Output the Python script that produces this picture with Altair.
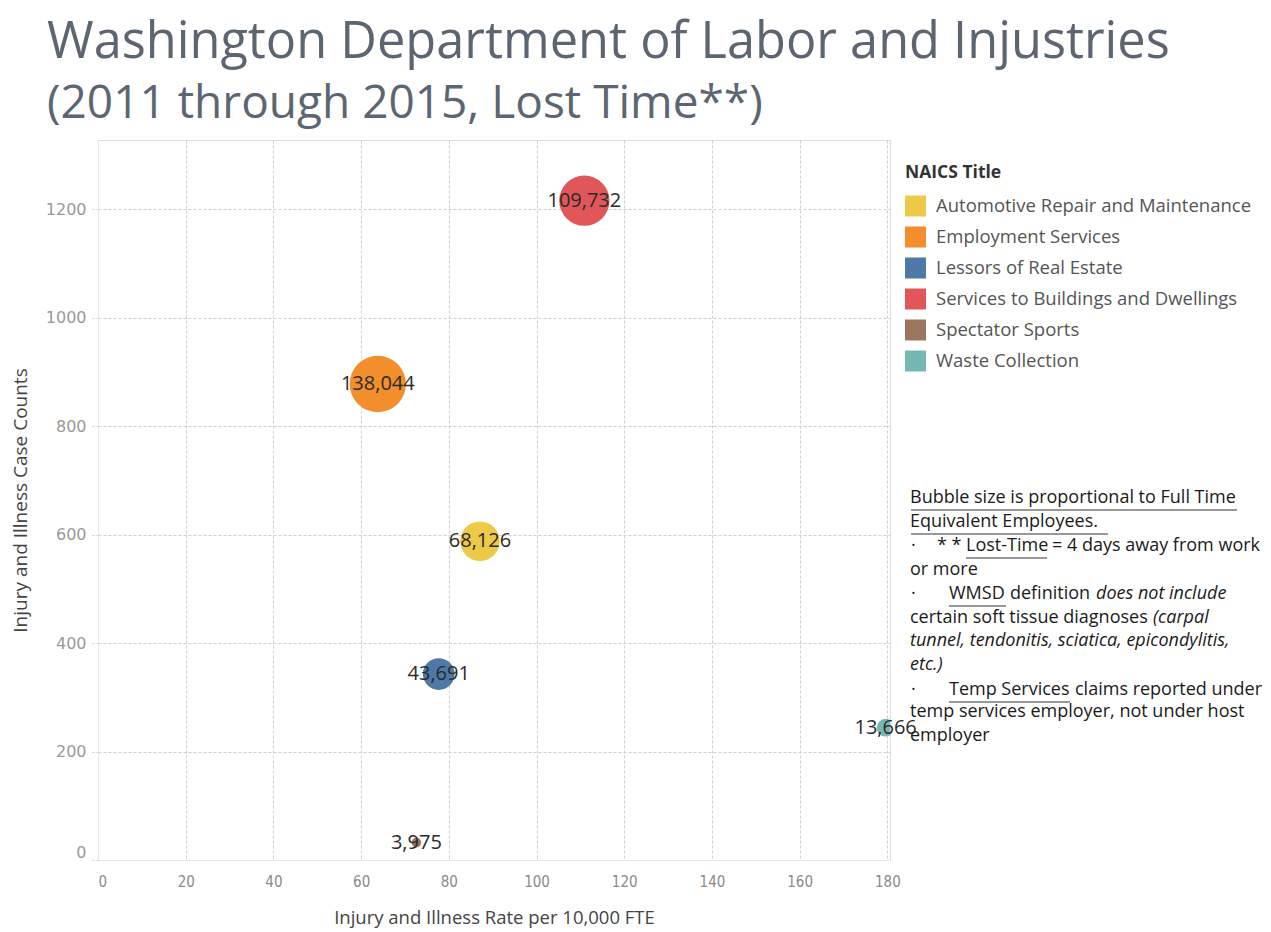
import altair as alt
import pandas as pd

# ---- data ----
categories = [
    "Automotive Repair and Maintenance",
    "Employment Services",
    "Lessors of Real Estate",
    "Services to Buildings and Dwellings",
    "Spectator Sports",
    "Waste Collection",
]
rate = [87.1, 63.8, 77.7, 110.9, 72.6, 179.6]
cases = [588, 878, 343, 1216, 32, 244]
fte = [68126, 138044, 43691, 109732, 3975, 13666]
colors = ["#EDC948", "#F28E2B", "#4E79A7", "#E15759", "#9C755F", "#76B7B2"]
x_ticks = [0, 20, 40, 60, 80, 100, 120, 140, 160, 180]
y_ticks = [0, 200, 400, 600, 800, 1000, 1200]

df = pd.DataFrame({"naics": categories, "rate": rate, "cases": cases, "fte": fte})

W, H = 792, 720
OX, OY = 98, 140  # page position of plot origin (for annotations)

GRID = dict(grid=True, gridColor="#cfcfcf", gridDash=[3, 2], gridWidth=1,
            domain=True, domainColor="#e6e6e6", domainWidth=1)

xenc = alt.X(
    "rate:Q",
    scale=alt.Scale(domain=[0, 180.6], nice=False, zero=True),
    axis=alt.Axis(
        values=x_ticks,
        title="Injury and Illness Rate per 10,000 FTE",
        ticks=False,
        tickSize=0,
        labelFont="Liberation Sans Narrow, DejaVu Sans Condensed, sans-serif",
        labelFontSize=15,
        labelColor="#8a8a8a",
        labelPadding=14,
        labelFlush=True,
        titleFont="Open Sans",
        titleFontSize=18.5,
        titleFontWeight="normal",
        titleColor="#444444",
        titlePadding=19,
        **GRID,
    ),
)
yenc = alt.Y(
    "cases:Q",
    scale=alt.Scale(domain=[0, 1328], nice=False),
    axis=alt.Axis(
        values=y_ticks,
        format="d",
        title="Injury and Illness Case Counts",
        ticks=True,
        tickSize=8,
        tickDash=[2, 2],
        tickColor="#cccccc",
        labelFont="DejaVu Sans",
        labelFontSize=16,
        labelColor="#999999",
        labelPadding=4,
        labelFlush=True,
        titleFont="Open Sans",
        titleFontSize=19,
        titleFontWeight="normal",
        titleColor="#444444",
        titlePadding=15,
        **GRID,
    ),
)

base = alt.Chart(df)

points = base.mark_circle(opacity=1, clip=True).encode(
    x=xenc,
    y=yenc,
    size=alt.Size("fte:Q", scale=alt.Scale(domain=[0, 138044], range=[0, 3170]), legend=None),
    color=alt.Color(
        "naics:N",
        scale=alt.Scale(domain=categories, range=colors),
        legend=alt.Legend(
            title="NAICS Title",
            orient="none",
            legendX=807,
            legendY=24,
            symbolType="square",
            symbolSize=441,
            symbolStrokeWidth=0,
            symbolOpacity=1,
            titleFont="Open Sans",
            titleFontSize=17.5,
            titleFontWeight="bold",
            titleColor="#333333",
            titlePadding=14,
            labelFont="Open Sans",
            labelFontSize=18.5,
            labelColor="#555555",
            labelOffset=10,
            rowPadding=10,
            labelLimit=400,
        ),
    ),
)

labels = base.mark_text(font="Open Sans", fontSize=20, color="#2a2a2a").encode(
    x=alt.X("rate:Q"),
    y=alt.Y("cases:Q"),
    text=alt.Text("fte:Q", format=","),
)


def txt(s, px, py, size=18, italic=False, color="#1a1a1a", font="Open Sans", baseline="middle"):
    return alt.Chart(alt.Data(values=[{"k": 1}])).mark_text(
        text=s,
        align="left",
        baseline=baseline,
        font=font,
        fontSize=size,
        fontStyle="italic" if italic else "normal",
        color=color,
    ).encode(x=alt.value(px - OX), y=alt.value(py - OY))


def uline(x1, x2, py):
    return alt.Chart(alt.Data(values=[{"k": 1}])).mark_rule(color="#333333", strokeWidth=1).encode(
        x=alt.value(x1 - OX), x2=alt.value(x2 - OX), y=alt.value(py - OY)
    )


title_col = "#5b6672"
annot = [
    txt("Washington Department of Labor and Injustries", 47, 58, size=50.5, color=title_col, baseline="alphabetic"),
    txt("(2011 through 2015, Lost Time**)", 47, 118, size=46, color=title_col, baseline="alphabetic"),
    txt("Bubble size is proportional to Full Time", 910, 498),
    txt("Equivalent Employees.", 910, 522),
    txt("·", 911, 546),
    txt("* *", 937, 546),
    txt("Lost-Time", 966, 546),
    txt("= 4 days away from work", 1052, 546),
    txt("or more", 910, 570),
    txt("·", 911, 594),
    txt("WMSD", 949, 594),
    txt("definition", 1010, 594),
    txt("does not  include", 1096, 594, italic=True),
    txt("certain soft tissue diagnoses", 910, 618),
    txt("(carpal", 1153, 618, italic=True),
    txt("tunnel, tendonitis, sciatica, epicondylitis,", 910, 641, italic=True),
    txt("etc.)", 910, 665, italic=True),
    txt("·", 911, 690),
    txt("Temp Services", 949, 690),
    txt("claims reported under", 1075, 690),
    txt("temp services employer, not under host", 910, 712),
    txt("employer", 910, 736),
    uline(911, 1237, 510),
    uline(911, 1108, 534),
    uline(966, 1047, 558),
    uline(949, 1006, 606),
    uline(949, 1070, 702),
]

chart = alt.layer(points, labels, *annot).properties(
    width=W,
    height=H,
    autosize=alt.AutoSizeParams(type="none"),
    padding={"left": 90, "top": 132, "right": 373, "bottom": 70},
).configure_view(stroke=None).configure(background="white")

chart.save("out.html", embed_options={"renderer": "svg", "actions": False})
